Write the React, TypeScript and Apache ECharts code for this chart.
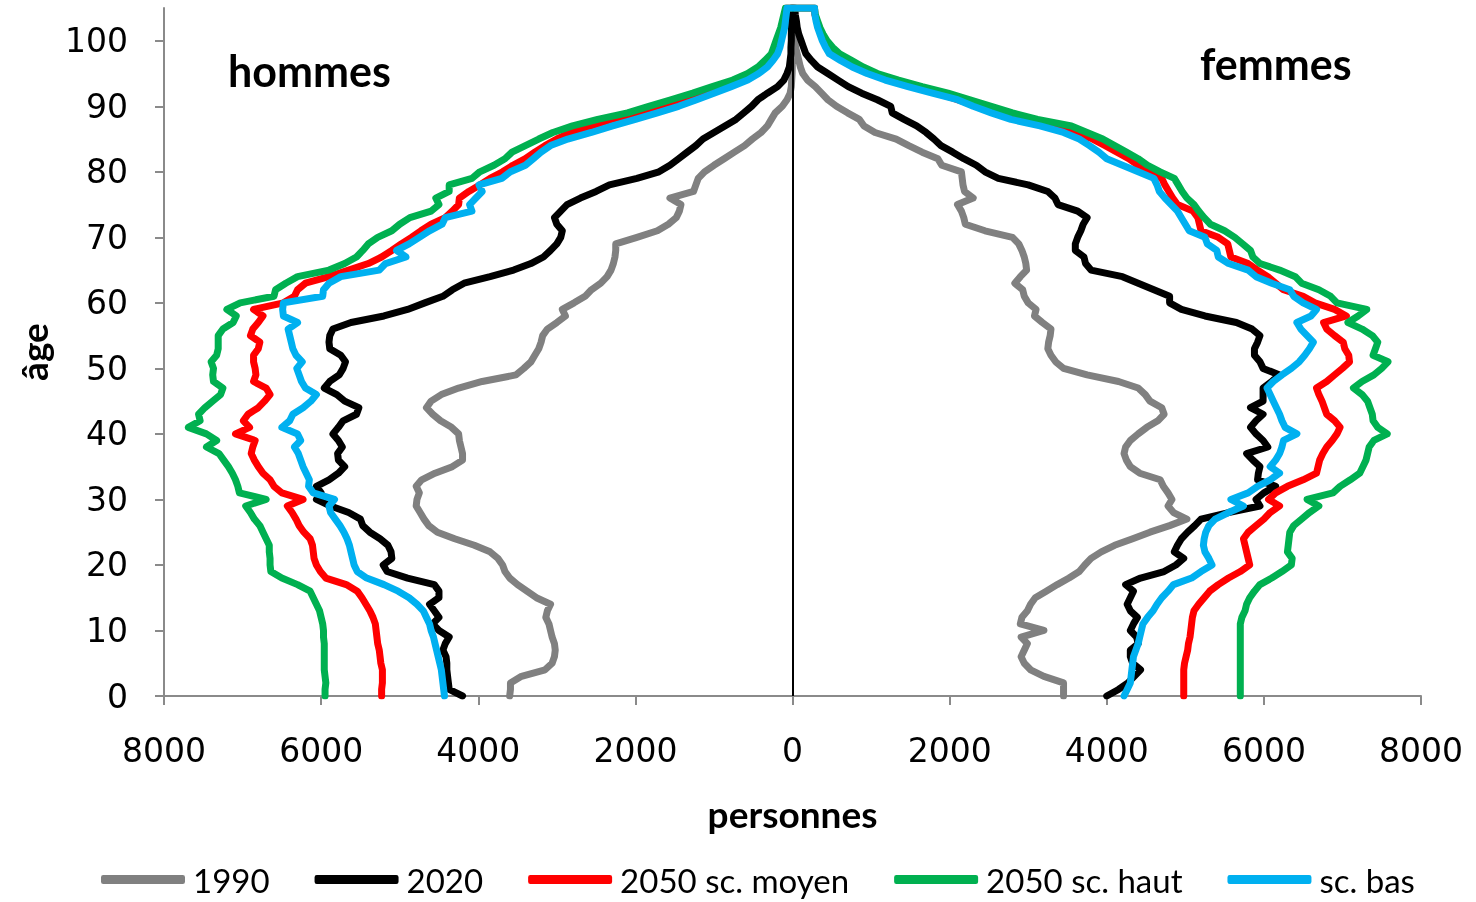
import React, { useEffect, useRef } from "react";
import * as echarts from "echarts";

const ages = Array.from({ length: 106 }, (_, i) => i);
const seriesNames = ["1990", "2020", "2050 sc. moyen", "2050 sc. haut", "sc. bas"];
const seriesColors = ["#808080", "#000000", "#FF0000", "#00B050", "#00B0F0"];
const xTicks = [-8000, -6000, -4000, -2000, 0, 2000, 4000, 6000, 8000];
const yTicks = [0, 10, 20, 30, 40, 50, 60, 70, 80, 90, 100];

// hommes (men), by age 0..105
const men1990 = [3600,3590,3590,3450,3150,3060,3030,3020,3030,3060,
3080,3100,3140,3120,3080,3260,3380,3500,3600,3660,
3690,3750,3850,4050,4300,4520,4630,4690,4740,4790,
4780,4750,4790,4720,4550,4330,4200,4200,4220,4240,
4250,4340,4480,4580,4660,4600,4470,4250,3950,3520,
3420,3330,3280,3230,3200,3180,3120,3000,2890,2930,
2780,2640,2560,2440,2360,2310,2280,2260,2250,2250,
1980,1720,1580,1480,1440,1420,1560,1260,1230,1200,
1120,1000,870,740,610,510,400,320,270,220,
130,70,30,15,10,5,3,2,1,0,
0,0,0,0,0,0];
const men2020 = [4200,4370,4380,4390,4400,4400,4410,4450,4420,4370,
4500,4580,4500,4560,4620,4500,4500,4560,4900,5160,
5210,5100,5110,5150,5250,5380,5470,5500,5650,5880,
6060,6000,6060,5900,5780,5700,5780,5790,5730,5780,
5850,5780,5720,5550,5520,5700,5800,5960,5890,5770,
5720,5690,5750,5890,5900,5890,5850,5620,5200,4900,
4680,4450,4330,4180,3850,3550,3330,3170,3080,3000,
2950,2930,3000,3030,2950,2870,2700,2500,2330,1980,
1700,1560,1450,1340,1230,1140,1000,860,720,620,
520,440,320,190,110,70,40,30,20,20,
15,15,12,10,10,10];
const men2050moyen = [5230,5230,5220,5220,5220,5240,5250,5260,5280,5290,
5300,5310,5340,5380,5430,5480,5540,5680,5940,6010,
6060,6090,6100,6110,6140,6220,6280,6320,6370,6430,
6230,6500,6600,6650,6740,6800,6850,6890,6870,6840,
7090,6910,6990,6930,6800,6720,6650,6700,6860,6830,
6840,6860,6860,6800,6780,6900,6870,6800,6740,6860,
6480,6340,6300,6200,5900,5650,5400,5230,5100,4980,
4850,4730,4600,4420,4330,4250,4240,4120,3980,3850,
3690,3560,3400,3280,3150,3000,2820,2560,2300,1980,
1700,1420,1150,900,680,500,390,300,240,210,
180,150,130,110,95,80];
const men2050haut = [5950,5950,5940,5950,5960,5960,5960,5960,5960,5970,
5970,5980,6000,6020,6060,6100,6140,6300,6500,6640,
6650,6650,6660,6660,6700,6740,6780,6850,6900,6960,
6700,7040,7060,7090,7130,7180,7240,7300,7460,7330,
7460,7690,7540,7560,7480,7380,7280,7250,7370,7380,
7370,7400,7330,7310,7310,7310,7250,7120,7080,7200,
7030,6600,6580,6450,6300,5900,5700,5550,5470,5400,
5280,5100,5000,4870,4600,4500,4540,4370,4370,4080,
3980,3800,3660,3570,3400,3230,3050,2800,2480,2100,
1830,1550,1270,1020,760,570,440,350,270,240,
210,180,150,130,110,90];
const men2050bas = [4430,4440,4450,4460,4470,4490,4510,4530,4550,4570,
4600,4620,4660,4700,4780,4880,5020,5200,5420,5540,
5580,5600,5620,5640,5670,5710,5760,5820,5880,5900,
5830,6100,6160,6150,6190,6230,6260,6290,6340,6260,
6300,6500,6400,6360,6230,6130,6060,6200,6250,6280,
6310,6240,6320,6360,6380,6400,6420,6300,6480,6490,
6480,5980,5970,5900,5750,5260,5180,4920,5040,4880,
4750,4620,4460,4420,4080,4110,4030,3950,3990,3700,
3590,3400,3300,3200,3080,2860,2560,2290,2000,1720,
1450,1220,1000,780,570,430,320,250,190,160,
140,120,100,90,80,70];

// femmes (women), by age 0..105
const women1990 = [3450,3450,3450,3200,3030,2950,2910,2950,2990,2910,
3200,2900,2920,2990,3030,3090,3230,3370,3520,3650,
3720,3800,3930,4100,4330,4550,4800,5020,4850,4780,
4830,4780,4720,4680,4420,4300,4250,4220,4240,4300,
4400,4510,4650,4730,4700,4550,4490,4400,4150,3750,
3450,3350,3290,3250,3260,3280,3290,3180,3080,3100,
3000,2950,2930,2830,2900,2980,2970,2950,2920,2880,
2800,2450,2200,2180,2150,2100,2300,2190,2170,2160,
2150,1900,1850,1650,1480,1320,1050,910,850,700,
560,450,370,290,190,130,100,80,60,40,
30,20,10,5,0,0];
const women2020 = [4000,4150,4270,4350,4430,4330,4300,4300,4400,4380,
4300,4340,4390,4300,4260,4300,4340,4240,4430,4730,
4880,4980,4860,4900,4950,5030,5120,5200,5550,5950,
5900,6000,6150,5920,5930,5950,5860,5780,6050,5990,
5900,5830,5900,5990,5830,5990,5990,5990,6100,6200,
5990,5950,5880,5880,5920,5950,5850,5650,5250,4950,
4800,4800,4600,4400,4200,3800,3730,3710,3600,3600,
3630,3670,3700,3750,3630,3380,3340,3250,3000,2620,
2450,2340,2180,2040,1890,1800,1700,1580,1420,1270,
1250,1080,880,710,580,450,320,240,170,140,
110,80,60,50,35,30];
const women2050moyen = [4980,4980,4980,4980,4980,4990,5010,5030,5040,5060,
5070,5080,5090,5110,5170,5240,5310,5420,5550,5700,
5820,5800,5780,5760,5740,5800,5900,6000,6080,6200,
6060,6150,6300,6500,6670,6690,6710,6750,6800,6870,
6930,6970,6900,6800,6770,6740,6700,6670,6800,6900,
7000,7090,7080,7030,7010,6900,6800,6760,7050,6900,
6650,6500,6250,6150,6050,5920,5800,5580,5560,5540,
5420,5200,5180,5160,5100,4900,4840,4790,4740,4700,
4540,4400,4280,4130,3980,3820,3580,3350,2980,2650,
2350,2100,1850,1580,1300,1040,860,720,580,490,
420,370,330,310,285,280];
const women2050haut = [5700,5700,5700,5700,5700,5700,5700,5700,5700,5700,
5700,5700,5720,5760,5780,5820,5880,5950,6100,6230,
6350,6360,6300,6310,6320,6330,6380,6480,6580,6700,
6550,6880,6970,7100,7220,7260,7300,7320,7340,7400,
7570,7450,7390,7380,7350,7320,7250,7140,7250,7400,
7500,7580,7390,7420,7450,7380,7250,7070,7200,7310,
6930,6850,6700,6480,6400,6200,5950,5860,5830,5730,
5630,5500,5320,5240,5170,5110,5020,4960,4910,4860,
4680,4520,4400,4250,4100,3950,3750,3550,3120,2800,
2530,2260,1980,1650,1350,1080,900,750,600,510,
440,390,350,320,290,280];
const women2050bas = [4220,4260,4300,4310,4320,4330,4340,4370,4400,4420,
4440,4460,4520,4590,4640,4700,4780,4850,5080,5200,
5340,5300,5250,5230,5240,5260,5300,5380,5550,5740,
5580,5800,5920,6080,6200,6080,6150,6200,6230,6250,
6420,6270,6230,6200,6160,6120,6080,6040,6120,6230,
6350,6450,6520,6580,6630,6550,6470,6420,6600,6670,
6500,6380,6330,6100,5900,5800,5550,5420,5400,5280,
5250,5050,5000,4950,4900,4820,4740,4670,4640,4600,
4400,4200,4000,3900,3780,3650,3450,3150,2780,2530,
2300,2100,1780,1470,1180,950,760,610,470,420,
380,350,320,300,285,280];

const menSeries = [men1990, men2020, men2050moyen, men2050haut, men2050bas];
const womenSeries = [women1990, women2020, women2050moyen, women2050haut, women2050bas];

const axisGray = "#8a8a8a";
const tickFont = "'DejaVu Sans', Verdana, sans-serif";
const titleFont = "Lato, 'Open Sans', sans-serif";

export default function App() {
  const ref = useRef<HTMLDivElement>(null);
  useEffect(() => {
    if (!ref.current) return;
    const chart = echarts.init(ref.current, undefined, { renderer: "svg" });

    const series = seriesNames.map((name, k) => {
      const left = menSeries[k].map((v, i) => [-v, ages[i]]);
      const right = womenSeries[k].map((v, i) => [v, ages[i]]).reverse();
      const s: any = {
        name,
        type: "line",
        data: [...left, ...right],
        showSymbol: false,
        symbol: "none",
        clip: true,
        lineStyle: { color: seriesColors[k], width: 7, cap: "round", join: "round" },
        itemStyle: { color: seriesColors[k] },
        z: 2 + k,
      };
      if (k === seriesNames.length - 1) {
        s.markLine = {
          silent: true,
          symbol: ["none", "none"],
          label: { show: false },
          lineStyle: { color: "#000000", width: 2, type: "solid" },
          data: [{ xAxis: 0 }],
        };
      }
      return s;
    });

    chart.setOption({
      animation: false,
      grid: { left: 164, right: 55, top: 8, bottom: 206, containLabel: false },
      xAxis: {
        type: "value",
        min: xTicks[0],
        max: xTicks[xTicks.length - 1],
        interval: 2000,
        name: "personnes",
        nameLocation: "middle",
        nameGap: 99,
        nameTextStyle: { fontFamily: titleFont, fontWeight: "bold", fontSize: 37, color: "#000" },
        axisLine: { show: true, onZero: false, lineStyle: { color: axisGray, width: 2 } },
        axisTick: { show: true, inside: false, length: 9, lineStyle: { color: axisGray, width: 2 } },
        axisLabel: {
          margin: 38,
          fontFamily: tickFont,
          fontSize: 33,
          color: "#000",
          formatter: (v: number) => String(Math.abs(v)),
        },
        splitLine: { show: false },
      },
      yAxis: {
        type: "value",
        min: 0,
        max: 105,
        interval: 10,
        name: "âge",
        nameLocation: "middle",
        nameRotate: 90,
        nameGap: 112,
        nameTextStyle: { fontFamily: titleFont, fontWeight: "bold", fontSize: 37, color: "#000" },
        axisLine: { show: true, onZero: false, lineStyle: { color: axisGray, width: 2 } },
        axisTick: { show: true, inside: false, length: 9, customValues: yTicks, lineStyle: { color: axisGray, width: 2 } },
        axisLabel: {
          margin: 36,
          fontFamily: tickFont,
          fontSize: 33,
          color: "#000",
          customValues: yTicks,
        },
        splitLine: { show: false },
      },
      legend: {
        data: seriesNames,
        left: 96,
        top: 858,
        icon: "roundRect",
        itemWidth: 84,
        itemHeight: 9,
        itemGap: 45,
        textStyle: { fontFamily: titleFont, fontSize: 33, color: "#000", padding: [0, 0, 0, 3] },
      },
      graphic: [
        {
          type: "text",
          left: 228,
          top: 49,
          style: { text: "hommes", fontFamily: titleFont, fontWeight: "bold", fontSize: 43, fill: "#000" },
        },
        {
          type: "text",
          left: 1200,
          top: 42,
          style: { text: "femmes", fontFamily: titleFont, fontWeight: "bold", fontSize: 43, fill: "#000" },
        },
      ],
      series,
    });
    return () => chart.dispose();
  }, []);
  return <div ref={ref} style={{ position: "fixed", left: 0, top: 0, width: 1476, height: 902 }} />;
}
